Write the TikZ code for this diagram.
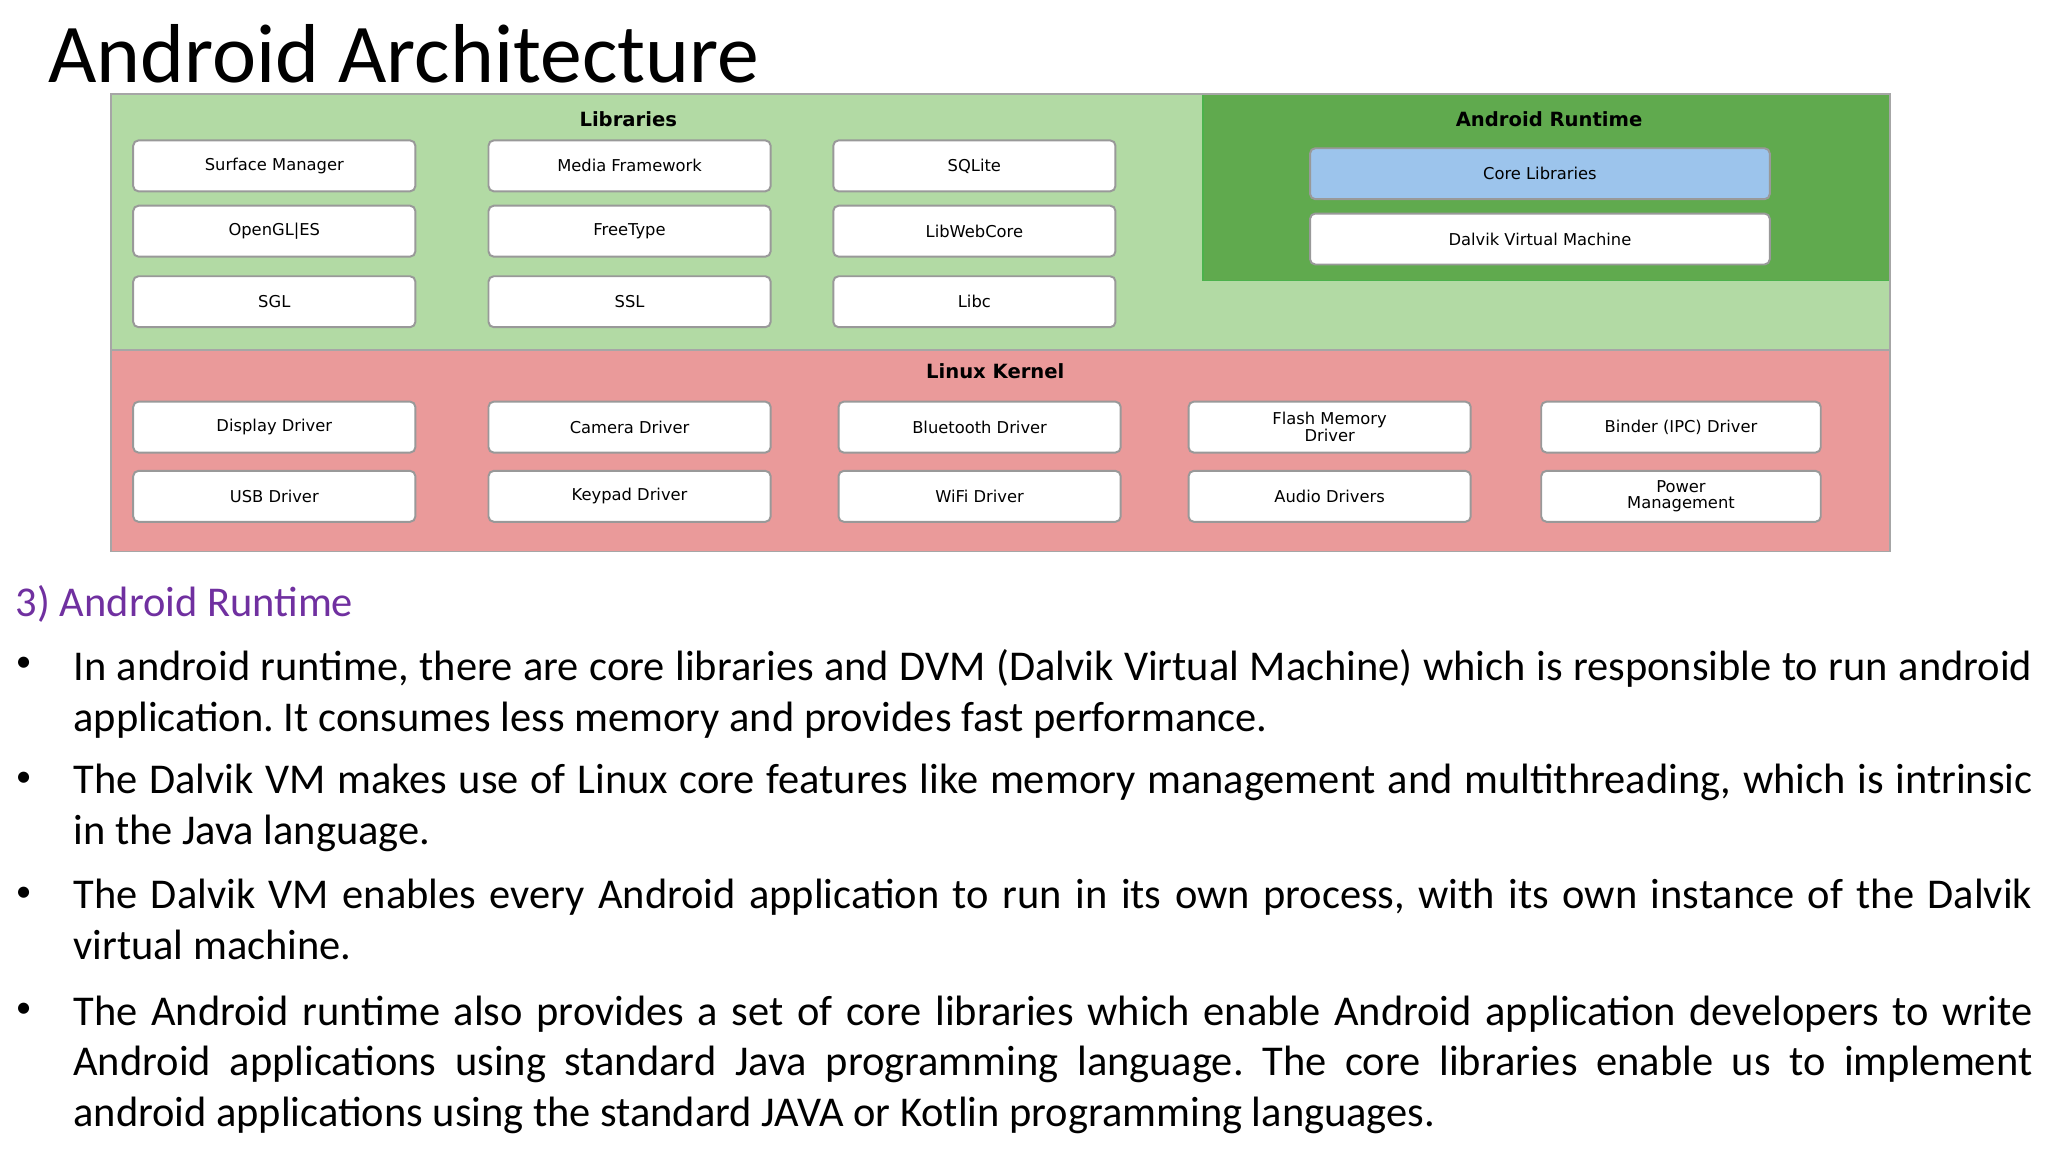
\documentclass[tikz,border=0pt]{standalone}
\usepackage{fontspec}
\setmainfont{Carlito}
\newfontfamily\diag{DejaVu Sans}
\definecolor{libg}{RGB}{178,218,164}
\definecolor{rtg}{RGB}{96,170,78}
\definecolor{kred}{RGB}{234,154,154}
\definecolor{coreb}{RGB}{156,196,236}
\definecolor{purp}{RGB}{112,48,160}
\frenchspacing
\begin{document}
\begin{tikzpicture}[x=1pt,y=-1pt,
  box/.style={draw=gray!80,line width=1.5pt,rounded corners=4pt,fill=white,minimum width=216pt,minimum height=39pt,font=\diag\fontsize{12.5}{12}\selectfont,align=center,inner sep=1pt},
  head/.style={font=\diag\bfseries\fontsize{15}{16}\selectfont},
  para/.style={anchor=north west,inner sep=0pt,text width=1500pt,align=justify,font=\fontsize{32.5}{39}\selectfont},
  bul/.style={anchor=north west,inner sep=0pt,font=\fontsize{24}{39}\selectfont}]
\useasboundingbox (0,0) rectangle (1568,882);
\fill[white] (0,0) rectangle (1568,882);
\node[anchor=base west,inner sep=0pt,font=\fontsize{64}{66}\selectfont] (title) at (37,63) {Android Architecture};
% regions
\fill[libg] (85,72) rectangle (1447,268);
\fill[rtg] (921,72) rectangle (1447,215);
\draw[gray!60!green,line width=1pt] (921,72) rectangle (1447,215);
\fill[kred] (85,268) rectangle (1447,422);
\draw[gray!70,line width=1pt] (85,268) -- (1447,268);
\draw[gray!70,line width=1pt] (85,72) rectangle (1447,422);
\node[head] (hlib) at (481,91) {Libraries};
\node[head] (hrt) at (1186,91) {Android Runtime};
\node[head] (hker) at (762,284) {Linux Kernel};
% libraries
\node[box] (l1) at (210,127) {Surface Manager};
\node[box] (l2) at (482,127) {Media Framework};
\node[box] (l3) at (746,127) {SQLite};
\node[box] (l4) at (210,177) {OpenGL|ES};
\node[box] (l5) at (482,177) {FreeType};
\node[box] (l6) at (746,177) {LibWebCore};
\node[box] (l7) at (210,231) {SGL};
\node[box] (l8) at (482,231) {SSL};
\node[box] (l9) at (746,231) {Libc};
% runtime
\node[box,minimum width=352pt,fill=coreb] (r1) at (1179,133) {Core Libraries};
\node[box,minimum width=352pt] (r2) at (1179,183) {Dalvik Virtual Machine};
% kernel
\node[box] (k1) at (210,327) {Display Driver};
\node[box] (k2) at (482,327) {Camera Driver};
\node[box] (k3) at (750,327) {Bluetooth Driver};
\node[box] (k4) at (1018,327) {Flash Memory\\Driver};
\node[box,minimum width=214pt] (k5) at (1287,327) {Binder (IPC) Driver};
\node[box] (k6) at (210,380) {USB Driver};
\node[box] (k7) at (482,380) {Keypad Driver};
\node[box] (k8) at (750,380) {WiFi Driver};
\node[box] (k9) at (1018,380) {Audio Drivers};
\node[box,minimum width=214pt] (k10) at (1287,380) {Power\\Management};
% text
\node[anchor=base west,inner sep=0pt,text=purp,font=\fontsize{32.5}{39}\selectfont] (sec) at (12,472) {3) Android Runtime};
\node[bul] (b1) at (12,503) {\textbullet};
\node[para] (p1) at (56,497) {In android runtime, there are core libraries and DVM (Dalvik Virtual Machine) which is responsible to run android\linebreak application. It consumes less memory and provides fast performance.};
\node[bul] (b2) at (12,591) {\textbullet};
\node[para] (p2) at (56,585) {The Dalvik VM makes use of Linux core features like memory management and multithreading, which is intrinsic\linebreak in the Java language.};
\node[bul] (b3) at (12,679) {\textbullet};
\node[para] (p3) at (56,673) {The Dalvik VM enables every Android application to run in its own process, with its own instance of the Dalvik\linebreak virtual machine.};
\node[bul] (b4) at (12,768) {\textbullet};
\node[para] (p4) at (56,762) {The Android runtime also provides a set of core libraries which enable Android application developers to write\linebreak Android applications using standard Java programming language. The core libraries enable us to implement\linebreak android applications using the standard JAVA or Kotlin programming languages.};
\end{tikzpicture}
\end{document}
